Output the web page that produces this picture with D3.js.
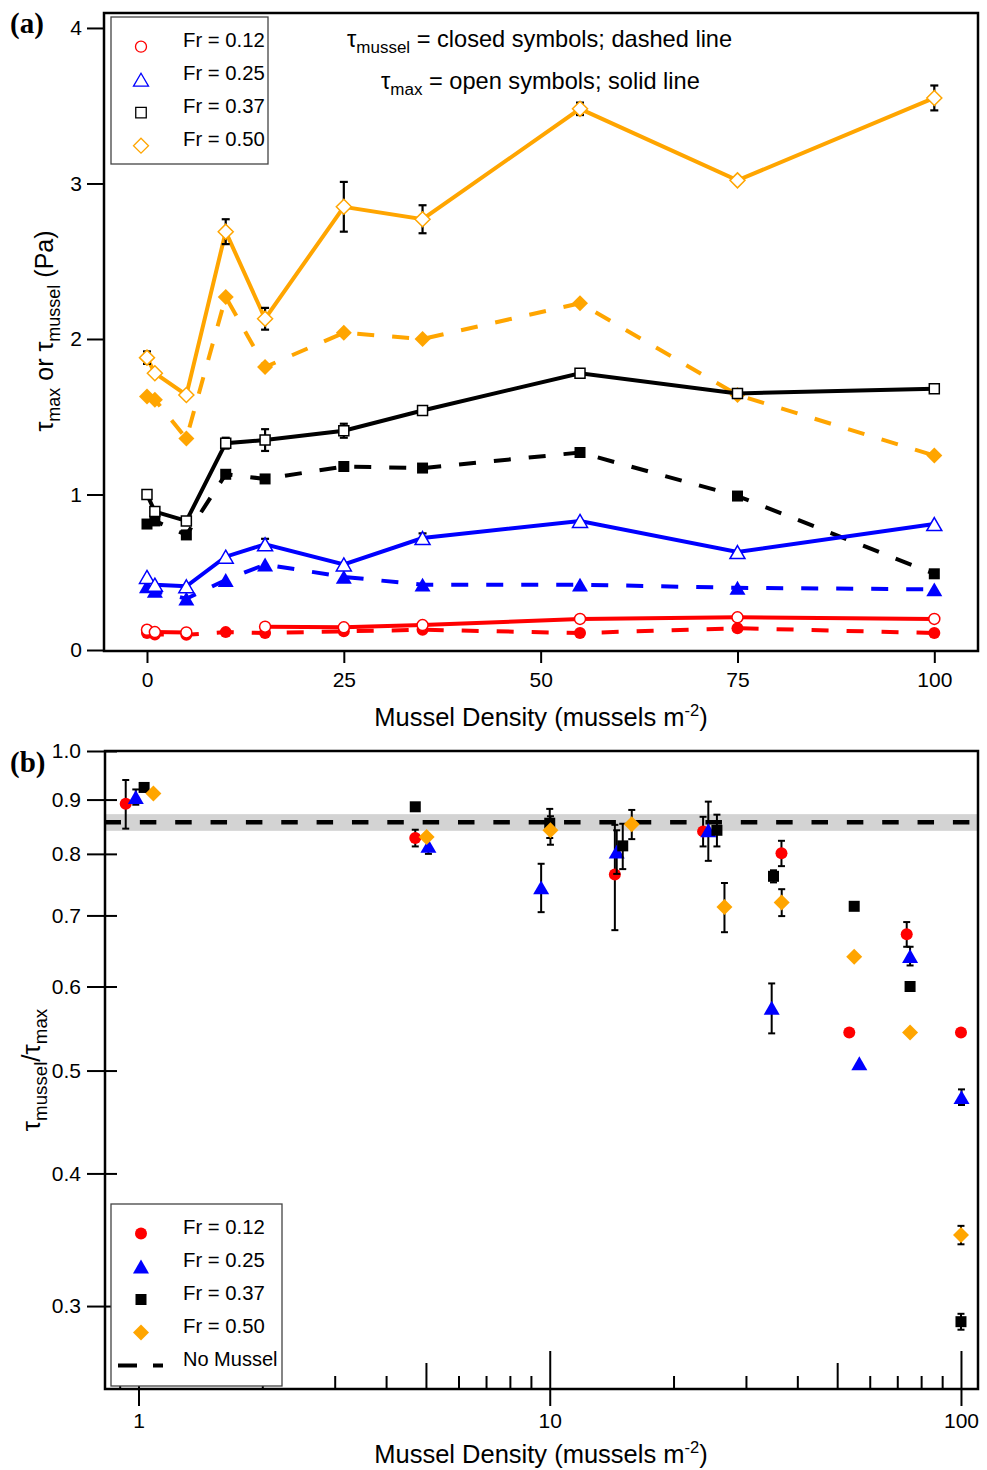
<!DOCTYPE html>
<html><head><meta charset="utf-8">
<script src="https://cdn.jsdelivr.net/npm/d3@7"></script>
<style>body{margin:0;background:#fff} text{font-family:"Liberation Sans",Arial,sans-serif;fill:#000}</style>
</head><body><svg id="c" width="987" height="1470"></svg>
<script>
// ---------- Panel (a) data ----------
const densityA = [0, 1, 5, 10, 15, 25, 35, 55, 75, 100];
const maxFr012 = [0.13, 0.115, 0.113, null, 0.15, 0.146, 0.16, 0.20, 0.21, 0.20];
const musFr012 = [0.11, 0.10, 0.098, 0.115, 0.109, 0.12, 0.13, 0.109, 0.14, 0.109];
const maxFr025 = [0.47, 0.42, 0.41, 0.60, 0.68, 0.55, 0.72, 0.83, 0.63, 0.81];
const musFr025 = [0.41, 0.38, 0.33, 0.45, 0.55, 0.47, 0.42, 0.42, 0.40, 0.39];
const maxFr037 = [1.00, 0.89, 0.83, 1.33, 1.35, 1.41, 1.54, 1.78, 1.65, 1.68];
const musFr037 = [0.81, 0.83, 0.74, 1.13, 1.10, 1.18, 1.17, 1.27, 0.99, 0.49];
const maxFr050 = [1.88, 1.78, 1.64, 2.69, 2.13, 2.85, 2.77, 3.48, 3.02, 3.55];
const musFr050 = [1.63, 1.61, 1.36, 2.27, 1.82, 2.04, 2.00, 2.23, 1.64, 1.25];
const errMaxFr050 = [0.04, 0, 0, 0.08, 0.07, 0.16, 0.09, 0.04, 0, 0.08];
const errMaxFr037 = [0, 0, 0, 0.035, 0.07, 0.045, 0.02, 0, 0, 0];
const errMaxFr025 = [0, 0, 0, 0, 0.035, 0, 0.03, 0, 0, 0];
const errMaxFr012 = [0, 0, 0, 0, 0, 0, 0, 0, 0, 0];
const ticksA_x = [0, 25, 50, 75, 100];
const ticksA_y = [0, 1, 2, 3, 4];
const frLabels = ["Fr = 0.12", "Fr = 0.25", "Fr = 0.37", "Fr = 0.50"];

// ---------- Panel (b) data ----------
const bX012 = [0.931, 4.71, 14.4, 23.6, 36.6, 53.5, 73.8, 100];
const bY012 = [0.892, 0.828, 0.765, 0.840, 0.801, 0.543, 0.672, 0.543];
const bE012 = [0.047, 0.015, 0.087, 0.027, 0.022, 0, 0.018, 0];
const bX025 = [0.985, 5.07, 9.53, 14.55, 24.3, 34.65, 56.6, 75.2, 100.3];
const bY025 = [0.905, 0.814, 0.744, 0.804, 0.842, 0.573, 0.508, 0.641, 0.472];
const bE025 = [0.015, 0.014, 0.039, 0.038, 0.054, 0.031, 0, 0.013, 0.008];
const bX037 = [1.032, 4.71, 10.0, 15.05, 25.5, 35.0, 55.0, 75.2, 100];
const bY037 = [0.924, 0.886, 0.855, 0.814, 0.842, 0.762, 0.714, 0.600, 0.290];
const bE037 = [0.008, 0, 0.027, 0.040, 0.029, 0.010, 0, 0, 0.005];
const bX050 = [1.087, 5.02, 10.04, 15.83, 26.6, 36.65, 55.0, 75.2, 100];
const bY050 = [0.912, 0.830, 0.842, 0.853, 0.713, 0.720, 0.640, 0.543, 0.350];
const bE050 = [0, 0, 0.026, 0.027, 0.038, 0.021, 0, 0, 0.007];
const noMusselMean = 0.857, noMusselLo = 0.841, noMusselHi = 0.872;
const ticksB_y = [0.3, 0.4, 0.5, 0.6, 0.7, 0.8, 0.9, 1.0];
const ticksB_xMajor = [1, 10, 100];
const ticksB_xMinor = [0.9, 2, 3, 4, 5, 6, 7, 8, 9, 20, 30, 40, 50, 60, 70, 80, 90];

const COL = {r: "#FF0000", b: "#0000FF", k: "#000000", o: "#FFA500"};
const FONT = '"Liberation Sans",Arial,sans-serif';

function shapePath(shape, s) {
  if (shape === "circle") return `M${s},0A${s},${s} 0 1 1 ${-s},0A${s},${s} 0 1 1 ${s},0Z`;
  if (shape === "square") return `M${-s},${-s}H${s}V${s}H${-s}Z`;
  if (shape === "triangle") { const w = s * 2, h = w * 0.866; return `M0,${-h/2}L${w/2},${h/2}L${-w/2},${h/2}Z`; }
  if (shape === "diamond") return `M0,${-s}L${s},0L0,${s}L${-s},0Z`;
}
const sizeOpen = {circle: 5.5, square: 5, triangle: 7.5, diamond: 7.5};
const sizeFill = {circle: 6, square: 5.5, triangle: 8, diamond: 8};

const svg = d3.select("#c");
svg.append("rect").attr("width", 987).attr("height", 1470).attr("fill", "#fff");

// text with sub/superscripts; the baseline shift is carried onto the following tspan
function tauText(g, x, y, parts, size, anchor) {
  const t = g.append("text").attr("x", x).attr("y", y).style("font-size", size + "px");
  if (anchor) t.attr("text-anchor", anchor);
  let pending = 0;
  parts.forEach(p => {
    if (p.sub) {
      t.append("tspan").attr("dy", pending + size * 0.28).style("font-size", (size * 0.72) + "px").text(p.sub);
      pending = -size * 0.28;
    } else if (p.sup) {
      t.append("tspan").attr("dy", pending - size * 0.38).style("font-size", (size * 0.65) + "px").text(p.sup);
      pending = size * 0.38;
    } else {
      t.append("tspan").attr("dy", pending).text(p.t);
      pending = 0;
    }
  });
  return t;
}

// ================= Panel (a) =================
const A = {l: 104, r: 978, t: 13, b: 651};
const xa = d3.scaleLinear().domain([-5.46, 105.55]).range([A.l, A.r]);
const ya = d3.scaleLinear().domain([-0.0064, 4.0962]).range([A.b, A.t]);

const gA = svg.append("g");
const axA_x = gA.append("g").attr("transform", `translate(0,${A.b})`)
  .call(d3.axisBottom(xa).tickValues(ticksA_x).tickSize(12).tickPadding(9).tickFormat(d3.format("d")));
const axA_y = gA.append("g").attr("transform", `translate(${A.l},0)`)
  .call(d3.axisLeft(ya).tickValues(ticksA_y).tickSize(17).tickPadding(5).tickFormat(d3.format("d")));
[axA_x, axA_y].forEach(a => {
  a.select(".domain").remove();
  a.selectAll("line").attr("stroke", "#000").attr("stroke-width", 2);
  a.selectAll("text").style("font-size", "21px").style("font-family", FONT).attr("fill", "#000");
});

const seriesA = [
  {c: COL.o, shape: "diamond", max: maxFr050, mus: musFr050, err: errMaxFr050},
  {c: COL.k, shape: "square", max: maxFr037, mus: musFr037, err: errMaxFr037},
  {c: COL.b, shape: "triangle", max: maxFr025, mus: musFr025, err: errMaxFr025},
  {c: COL.r, shape: "circle", max: maxFr012, mus: musFr012, err: errMaxFr012},
];
const lineA = d3.line().defined(d => d.v != null).x(d => xa(d.x)).y(d => ya(d.v));
const plotA = gA.append("g");
seriesA.forEach(s => {
  const mus = densityA.map((x, i) => ({x, v: s.mus[i]}));
  const mx = densityA.map((x, i) => ({x, v: s.max[i], e: s.err[i]}));
  plotA.append("path").datum(mus).attr("d", lineA).attr("fill", "none")
    .attr("stroke", s.c).attr("stroke-width", 4).attr("stroke-dasharray", "17,18");
  plotA.selectAll(null).data(mus.filter(d => d.v != null)).enter().append("path")
    .attr("d", shapePath(s.shape, sizeFill[s.shape]))
    .attr("transform", d => `translate(${xa(d.x)},${ya(d.v)})`)
    .attr("fill", s.c).attr("stroke", "none");
  plotA.append("path").datum(mx).attr("d", lineA).attr("fill", "none")
    .attr("stroke", s.c).attr("stroke-width", 4);
  const eg = plotA.append("g").attr("stroke", "#000").attr("stroke-width", 2.2);
  mx.filter(d => d.v != null && d.e > 0).forEach(d => {
    const X = xa(d.x), y1 = ya(d.v - d.e), y2 = ya(d.v + d.e);
    eg.append("line").attr("x1", X).attr("x2", X).attr("y1", y1).attr("y2", y2);
    eg.append("line").attr("x1", X - 4).attr("x2", X + 4).attr("y1", y1).attr("y2", y1);
    eg.append("line").attr("x1", X - 4).attr("x2", X + 4).attr("y1", y2).attr("y2", y2);
  });
  plotA.selectAll(null).data(mx.filter(d => d.v != null)).enter().append("path")
    .attr("d", shapePath(s.shape, sizeOpen[s.shape]))
    .attr("transform", d => `translate(${xa(d.x)},${ya(d.v)})`)
    .attr("fill", "#fff").attr("stroke", s.c).attr("stroke-width", 1.5);
});
gA.append("rect").attr("x", A.l).attr("y", A.t).attr("width", A.r - A.l).attr("height", A.b - A.t)
  .attr("fill", "none").attr("stroke", "#000").attr("stroke-width", 2.5);

// legend (a)
const legA = gA.append("g");
legA.append("rect").attr("x", 111).attr("y", 17).attr("width", 157).attr("height", 147)
  .attr("fill", "#fff").attr("stroke", "#444").attr("stroke-width", 1.3);
const legItems = [{c: COL.r, shape: "circle"}, {c: COL.b, shape: "triangle"}, {c: COL.k, shape: "square"}, {c: COL.o, shape: "diamond"}];
legItems.forEach((it, i) => {
  const y = 46.7 + 33 * i;
  legA.append("path").attr("d", shapePath(it.shape, sizeOpen[it.shape] * (it.shape === "square" ? 1.05 : 1.0)))
    .attr("transform", `translate(141,${y})`).attr("fill", "#fff").attr("stroke", it.c).attr("stroke-width", 1.3);
  legA.append("text").attr("x", 183).attr("y", y).style("font-size", "20.3px").text(frLabels[i]);
});

// annotations (a)
tauText(gA, 347, 46.5, [{t: "τ"}, {sub: "mussel"}, {t: " = closed symbols; dashed line"}], 23.6);
tauText(gA, 381, 88.5, [{t: "τ"}, {sub: "max"}, {t: " = open symbols; solid line"}], 23.6);

// axis titles (a)
tauText(gA, 541, 726, [{t: "Mussel Density (mussels m"}, {sup: "-2"}, {t: ")"}], 25.5, "middle");
const ylA = gA.append("g").attr("transform", "translate(53,331) rotate(-90)");
tauText(ylA, 0, 0, [{t: "τ"}, {sub: "max"}, {t: " or τ"}, {sub: "mussel"}, {t: " (Pa)"}], 25, "middle");

svg.append("text").attr("x", 10).attr("y", 33).style("font-family", '"Liberation Serif","Times New Roman",serif')
  .style("font-weight", "bold").style("font-size", "29px").text("(a)");

// ================= Panel (b) =================
const B = {l: 105, r: 978, t: 751, b: 1389};
const xb = d3.scaleLog().domain([0.829, 110]).range([B.l, B.r]);
const yb = d3.scaleLog().domain([0.2506, 1.0]).range([B.b, B.t]);
const gB = svg.append("g");

gB.append("rect").attr("x", B.l).attr("width", B.r - B.l)
  .attr("y", yb(noMusselHi)).attr("height", yb(noMusselLo) - yb(noMusselHi)).attr("fill", "#d3d3d3");
gB.append("line").attr("x1", B.l - 0.5).attr("x2", B.r).attr("y1", yb(noMusselMean)).attr("y2", yb(noMusselMean))
  .attr("stroke", "#000").attr("stroke-width", 4.5).attr("stroke-dasharray", "16.5,18.85");

const axB_y = gB.append("g").attr("transform", `translate(${B.l},0)`)
  .call(d3.axisLeft(yb).tickValues(ticksB_y).tickSize(18).tickPadding(6).tickFormat(d3.format(".1f")));
axB_y.selectAll("line").attr("x1", 12);
const axB_x = gB.append("g").attr("transform", `translate(0,${B.b})`)
  .call(d3.axisBottom(xb).tickValues(ticksB_xMajor).tickSize(17).tickPadding(7).tickFormat(d3.format("d")));
axB_x.selectAll("line").attr("y1", -38);
const axB_xm = gB.append("g").attr("transform", `translate(0,${B.b})`)
  .call(d3.axisBottom(xb).tickValues(ticksB_xMinor).tickSize(0).tickFormat(""));
axB_xm.selectAll("line").attr("y1", d => (d === 5 || d === 50) ? -26 : -13).attr("y2", 0);
[axB_y, axB_x, axB_xm].forEach(a => {
  a.select(".domain").remove();
  a.selectAll("line").attr("stroke", "#000").attr("stroke-width", 2);
  a.selectAll("text").style("font-size", "21px").style("font-family", FONT).attr("fill", "#000");
});

const seriesB = [
  {c: COL.r, shape: "circle", x: bX012, y: bY012, e: bE012},
  {c: COL.b, shape: "triangle", x: bX025, y: bY025, e: bE025},
  {c: COL.k, shape: "square", x: bX037, y: bY037, e: bE037},
  {c: COL.o, shape: "diamond", x: bX050, y: bY050, e: bE050},
];
const plotB = gB.append("g");
seriesB.forEach(s => {
  const pts = s.x.map((x, i) => ({x, v: s.y[i], e: s.e[i]}));
  const eg = plotB.append("g").attr("stroke", "#000").attr("stroke-width", 2);
  pts.filter(d => d.e > 0).forEach(d => {
    const X = xb(d.x), y1 = yb(d.v - d.e), y2 = yb(d.v + d.e);
    eg.append("line").attr("x1", X).attr("x2", X).attr("y1", y1).attr("y2", y2);
    eg.append("line").attr("x1", X - 3.5).attr("x2", X + 3.5).attr("y1", y1).attr("y2", y1);
    eg.append("line").attr("x1", X - 3.5).attr("x2", X + 3.5).attr("y1", y2).attr("y2", y2);
  });
  plotB.selectAll(null).data(pts).enter().append("path")
    .attr("d", shapePath(s.shape, sizeFill[s.shape]))
    .attr("transform", d => `translate(${xb(d.x)},${yb(d.v)})`)
    .attr("fill", s.c);
});
gB.append("rect").attr("x", B.l).attr("y", B.t).attr("width", B.r - B.l).attr("height", B.b - B.t)
  .attr("fill", "none").attr("stroke", "#000").attr("stroke-width", 2.5);

// legend (b)
const legB = gB.append("g");
legB.append("rect").attr("x", 111).attr("y", 1204).attr("width", 171).attr("height", 182)
  .attr("fill", "#fff").attr("stroke", "#444").attr("stroke-width", 1.3);
legItems.forEach((it, i) => {
  const y = 1233.5 + 33 * i;
  legB.append("path").attr("d", shapePath(it.shape, sizeFill[it.shape]))
    .attr("transform", `translate(141,${y})`).attr("fill", it.c);
  legB.append("text").attr("x", 183).attr("y", y).style("font-size", "20.3px").text(frLabels[i]);
});
legB.append("line").attr("x1", 118).attr("x2", 163).attr("y1", 1365.5).attr("y2", 1365.5)
  .attr("stroke", "#000").attr("stroke-width", 4).attr("stroke-dasharray", "19,16");
legB.append("text").attr("x", 183).attr("y", 1365.5).style("font-size", "20px").text("No Mussel");

// axis titles (b)
tauText(gB, 541, 1463, [{t: "Mussel Density (mussels m"}, {sup: "-2"}, {t: ")"}], 25.5, "middle");
const ylB = gB.append("g").attr("transform", "translate(40,1070) rotate(-90)");
tauText(ylB, 0, 0, [{t: "τ"}, {sub: "mussel"}, {t: "/τ"}, {sub: "max"}], 26, "middle");

svg.append("text").attr("x", 10).attr("y", 772).style("font-family", '"Liberation Serif","Times New Roman",serif')
  .style("font-weight", "bold").style("font-size", "29px").text("(b)");
</script></body></html>
